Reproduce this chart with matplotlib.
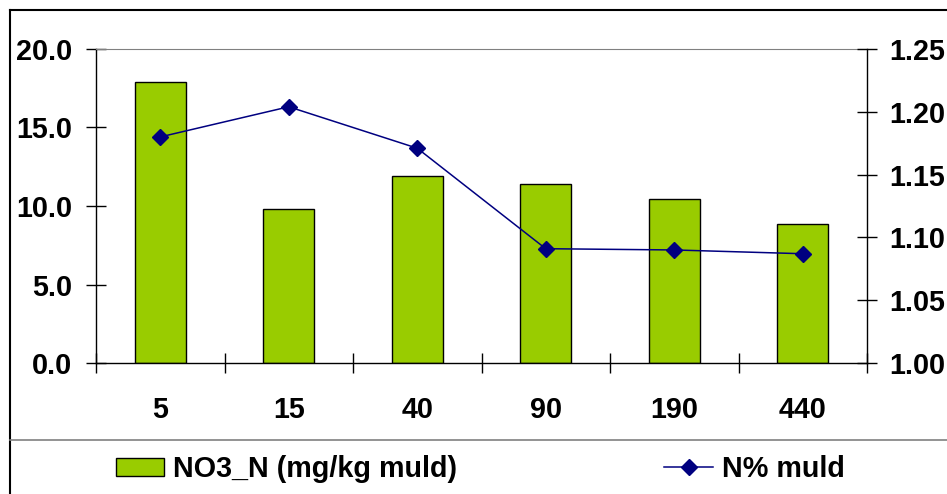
import numpy as np
import matplotlib.pyplot as plt
from matplotlib.patches import Patch
from matplotlib.lines import Line2D

plt.rcParams['font.family'] = ['Liberation Sans', 'DejaVu Sans']
plt.rcParams['font.weight'] = 'bold'

## Data
depths = ['5', '15', '40', '90', '190', '440']
no3_n = [17.9, 9.8, 11.9, 11.4, 10.45, 8.85]
n_pct = [1.180, 1.204, 1.171, 1.091, 1.090, 1.087]

W, H = 947, 494
FS = 20.7
fig = plt.figure(figsize=(W / 100, H / 100), dpi=100)

# outer chart frame (cut off at right and bottom in the original)
fig.add_artist(Line2D([10 / W, 10 / W], [0, 1 - 10 / H], color='black', lw=1.5))
fig.add_artist(Line2D([10 / W, 1], [1 - 10 / H, 1 - 10 / H], color='black', lw=1.5))
# legend separator
fig.add_artist(Line2D([10 / W, 1], [1 - 440 / H, 1 - 440 / H], color='#808080', lw=1.2))

left, right, top, bottom = 96, 867, 49, 363
ax = fig.add_axes([left / W, 1 - bottom / H, (right - left) / W, (bottom - top) / H])
x = np.arange(len(depths))

ax.bar(x, no3_n, width=0.4, color='#99CC00', edgecolor='black', linewidth=1)
ax.set_xlim(-0.5, len(depths) - 0.5)
ax.set_ylim(0, 20)
ax.set_yticks([0, 5, 10, 15, 20])
ax.set_yticklabels(['%.1f' % v for v in [0, 5, 10, 15, 20]])
ax.set_xticks(x)
ax.set_xticklabels(depths)
ax.set_xticks(np.arange(-0.5, len(depths)), minor=True)
ax.tick_params(axis='x', which='major', length=0, pad=24, labelsize=FS)
ax.tick_params(axis='x', which='minor', direction='inout', length=14, width=1)
ax.tick_params(axis='y', direction='inout', length=14, width=1, pad=10, labelsize=FS)
ax.spines['top'].set_color('#808080')
ax.spines['right'].set_visible(False)
for s in ['left', 'bottom']:
    ax.spines[s].set_linewidth(1)

ax2 = ax.twinx()
ax2.plot(x, n_pct, color='#000080', lw=1.1, marker='D', markersize=8.5)
ax2.set_ylim(1.0, 1.25)
ax2.set_yticks([1.00, 1.05, 1.10, 1.15, 1.20, 1.25])
ax2.set_yticklabels(['%.2f' % v for v in [1.00, 1.05, 1.10, 1.15, 1.20, 1.25]])
ax2.tick_params(axis='y', direction='inout', length=14, width=1, pad=9, labelsize=FS)
for s in ['top', 'left', 'bottom']:
    ax2.spines[s].set_visible(False)
ax2.spines['right'].set_linewidth(1)

handles = [Patch(facecolor='#99CC00', edgecolor='black', linewidth=1),
           Line2D([], [], color='#000080', lw=1.1, marker='D', markersize=8.5)]
fig.legend(handles, ['NO3_N (mg/kg muld)', 'N% muld'], ncol=2, frameon=False,
           fontsize=FS, handlelength=1.7, handleheight=0.62, handletextpad=0.31,
           columnspacing=7.2,
           loc='center left', bbox_to_anchor=(104 / W, 1 - 469 / H), borderaxespad=0)

fig.savefig('out.png', dpi=100)
